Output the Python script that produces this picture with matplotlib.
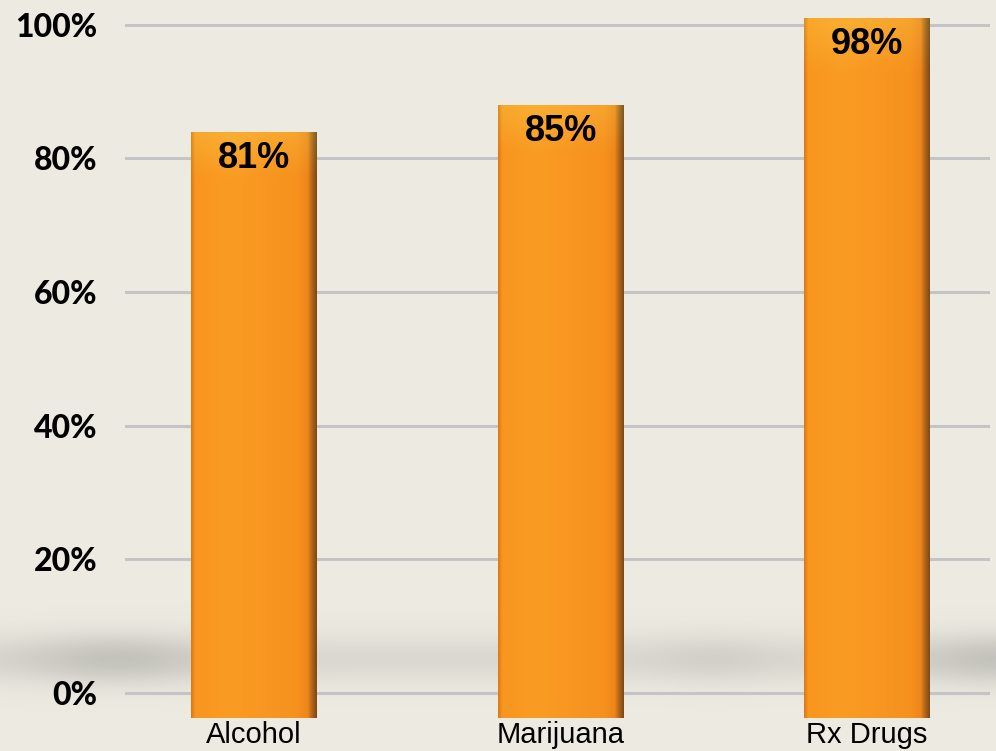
import numpy as np
import matplotlib.pyplot as plt
from matplotlib.colors import LinearSegmentedColormap

categories = ["Alcohol", "Marijuana", "Rx Drugs"]
values = [81, 85, 98]
yticks = [0, 20, 40, 60, 80, 100]
ytick_labels = ["0%", "20%", "40%", "60%", "80%", "100%"]

BG = "#edebe1"
ORANGE = "#f7951f"


def main():
    fig = plt.figure(figsize=(9.96, 7.51), dpi=100)
    fig.patch.set_facecolor(BG)
    ax = fig.add_axes([125 / 996, 0, 865 / 996, 1])
    ax.set_facecolor(BG)

    # soft floor shadow behind the bars (reaches past the axes on the left)
    sx0, sx1, sy0, sy1 = -0.83, 2.45, -8.7, 16
    xs = np.linspace(sx0, sx1, 400)
    ys = np.linspace(sy0, sy1, 150)
    X, Y = np.meshgrid(xs, ys)
    band = np.exp(-((Y - 5.0) / 3.8) ** 2)
    side = 0.45 + 0.55 * (np.exp(-((X + 0.45) / 0.3) ** 2) + np.exp(-((X - 2.45) / 0.3) ** 2))
    side += 0.2 * np.exp(-((X - 1.5) / 0.2) ** 2)
    shade = np.zeros(X.shape + (4,))
    shade[..., :3] = 0.5
    shade[..., 3] = 0.38 * band * np.clip(side, 0, 1)
    sh = ax.imshow(shade, extent=(sx0, sx1, sy0, sy1), origin="lower",
                   aspect="auto", zorder=0.5, interpolation="bilinear")
    sh.set_clip_on(False)
    ax.set_xlim(-0.421, 2.401)
    ax.set_ylim(-8.7, 103.7)

    # grid
    ax.set_yticks(yticks)
    ax.set_yticklabels(ytick_labels)
    ax.yaxis.grid(True, color="#c4c4c4", linewidth=2.2, zorder=1)
    ax.set_xticks([])
    ax.tick_params(axis="y", length=0, pad=20)
    for lab in ax.get_yticklabels():
        lab.set_fontfamily("Lato")
        lab.set_fontweight("black")
        lab.set_fontsize(23)
    for s in ax.spines.values():
        s.set_visible(False)

    # bars with a little 3D depth above/below the value
    width = 0.41
    bars = ax.bar(range(len(categories)), [v + 3 + 3.7 for v in values], width=width,
                  bottom=-3.7, color=ORANGE, zorder=2, linewidth=0)

    cmap = LinearSegmentedColormap.from_list(
        "barshade", [(0, "#dc7b16"), (0.03, "#f8961f"), (0.3, "#fa9c24"),
                     (0.85, "#f6911e"), (0.93, "#ee861b"), (0.96, "#b8681a"),
                     (1, "#7e4a16")])
    for b in bars:
        x0, y0 = b.get_x(), b.get_y()
        w, h = b.get_width(), b.get_height()
        grad = np.tile(np.linspace(0, 1, 300), (80, 1))
        img = cmap(grad)
        # lighter cap near the top
        tv = np.linspace(0, 1, 80)[:, None]
        lift = np.clip((tv - 0.93) / 0.07, 0, 1)
        img[..., 1] = np.clip(img[..., 1] + 0.07 * lift, 0, 1)
        img[..., 2] = np.clip(img[..., 2] + 0.05 * lift, 0, 1)
        im = ax.imshow(img, extent=(x0, x0 + w, y0, y0 + h), origin="lower",
                       aspect="auto", zorder=2.5, interpolation="bilinear")
        im.set_clip_path(b)

    for i, v in enumerate(values):
        ax.text(i, v - 1, f"{v}%", ha="center", va="center", fontsize=26,
                fontweight="bold", family="Liberation Sans", color="black", zorder=4)
        ax.text(i, -7.55, categories[i], ha="center", va="baseline", fontsize=21,
                family="Liberation Sans", color="black", zorder=4, clip_on=False)

    fig.savefig("out.png", dpi=100, facecolor=BG)


if __name__ == "__main__":
    main()
